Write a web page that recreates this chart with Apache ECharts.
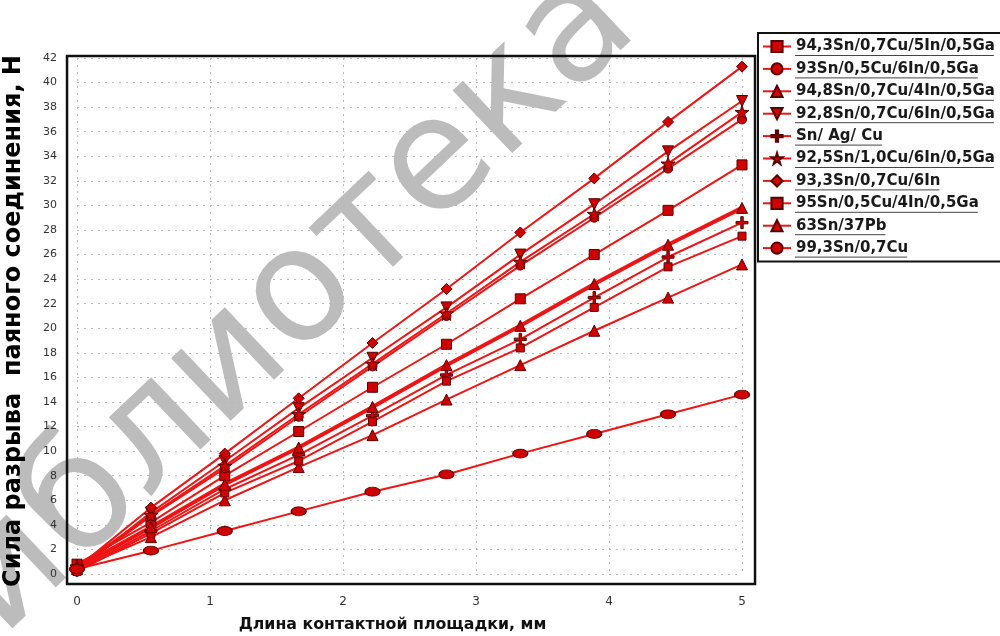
<!DOCTYPE html>
<html><head><meta charset="utf-8">
<script src="https://cdn.jsdelivr.net/npm/echarts@6/dist/echarts.min.js"></script>
<style>html,body{margin:0;padding:0;background:#fff}#c{width:1000px;height:636px}</style>
</head><body><div id="c"></div>
<script>
// ---- data ----
const xValues = [0, 0.556, 1.111, 1.667, 2.222, 2.778, 3.333, 3.889, 4.444, 5];
const yTickMax = 42;
const seriesNames = [
  '94,3Sn/0,7Cu/5In/0,5Ga',
  '93Sn/0,5Cu/6In/0,5Ga',
  '94,8Sn/0,7Cu/4In/0,5Ga',
  '92,8Sn/0,7Cu/6In/0,5Ga',
  'Sn/ Ag/ Cu',
  '92,5Sn/1,0Cu/6In/0,5Ga',
  '93,3Sn/0,7Cu/6In',
  '95Sn/0,5Cu/4In/0,5Ga',
  '63Sn/37Pb',
  '99,3Sn/0,7Cu'
];
const s943 = [0.8, 4.2, 8.0, 11.6, 15.2, 18.7, 22.4, 26.0, 29.6, 33.3];
const s93  = [0.4, 4.7, 8.6, 12.8, 16.9, 21.0, 25.1, 29.0, 33.0, 37.0];
const s948 = [0.4, 3.0, 6.0, 8.7, 11.3, 14.2, 17.0, 19.8, 22.5, 25.2];
const s928 = [0.3, 5.0, 9.2, 13.5, 17.6, 21.7, 26.0, 30.1, 34.4, 38.5];
const sSAC = [0.3, 3.5, 6.9, 9.7, 12.9, 16.2, 19.1, 22.5, 25.8, 28.6];
const s925 = [0.6, 4.8, 8.8, 13.0, 17.1, 21.2, 25.4, 29.3, 33.4, 37.6];
const s933 = [0.5, 5.4, 9.8, 14.3, 18.8, 23.2, 27.8, 32.2, 36.8, 41.3];
const s95  = [0.2, 3.3, 6.6, 9.2, 12.4, 15.7, 18.4, 21.7, 25.0, 27.5];
const s63  = [0.5, 3.8, 7.3, 10.3, 13.6, 17.0, 20.2, 23.6, 26.8, 29.8];
const s993 = [0.4, 1.9, 3.5, 5.1, 6.7, 8.1, 9.8, 11.4, 13.0, 14.6];
const seriesValues = [s943, s93, s948, s928, sSAC, s925, s933, s95, s63, s993];
const xTitle = 'Длина контактной площадки, мм';
const yTitle = 'Сила разрыва  паяного соединения, Н';
const watermark = 'Библиотека';

// ---- styles ----
const PLUS = 'path://M4,0H6V4H10V6H6V10H4V6H0V4H4Z';
const STAR = 'path://M50,0L61,35H98L68,57L79,91L50,70L21,91L32,57L2,35H39Z';
const symbols = [
  {symbol:'rect', size:10},
  {symbol:'circle', size:9},
  {symbol:'triangle', size:11},
  {symbol:'triangle', size:11, rotate:180},
  {symbol:PLUS, size:12},
  {symbol:STAR, size:14},
  {symbol:'diamond', size:11},
  {symbol:'rect', size:8},
  {symbol:'triangle', size:11},
  {symbol:'circle', size:[15,9]}
];
const lineW = [2,2,2,2,2,2,2,2,4,2];
const LEG_FONT = 'bold 15px "DejaVu Sans"';

const chart = echarts.init(document.getElementById('c'), null, {renderer:'canvas'});
const series = seriesNames.map((name, i) => ({
  name, type:'line',
  data: xValues.map((x, j) => [x, seriesValues[i][j]]),
  symbol: symbols[i].symbol,
  symbolSize: symbols[i].size,
  symbolRotate: symbols[i].rotate || 0,
  showAllSymbol: true,
  lineStyle: {color:'#ee1414', width: lineW[i]},
  itemStyle: {color:'#d00000', borderColor:'#5a0000', borderWidth:1},
  emphasis: {disabled:true},
  z: 3
}));

const LEG_TOP = 33, LEG_PAD_T = 6, ITEM_H = 15, ITEM_GAP = 7.4;
chart.setOption({
  animation:false,
  backgroundColor:'#fff',
  grid:{left:77, right:258, top:58, bottom:62, containLabel:false, outerBoundsMode:'none'},
  xAxis:{type:'value', min:0, max:5, interval:1,
    axisLine:{show:false}, axisTick:{show:false},
    axisLabel:{color:'#333', fontSize:12, fontFamily:'DejaVu Sans', margin:22},
    splitLine:{show:true, lineStyle:{color:'#b8b8b8', type:[2,5], width:1}},
    name:xTitle, nameLocation:'middle', nameGap:43,
    nameTextStyle:{color:'#111', fontSize:15.8, fontWeight:'bold', fontFamily:'DejaVu Sans', padding:[0,34,0,0]}
  },
  yAxis:{type:'value', min:0, max:yTickMax, interval:2,
    axisLine:{show:false}, axisTick:{show:false},
    axisLabel:{color:'#333', fontSize:11, fontFamily:'DejaVu Sans', margin:20},
    splitLine:{show:true, lineStyle:{color:'#b8b8b8', type:[2,5], width:1}},
    name:yTitle, nameLocation:'middle', nameGap:51, nameRotate:90,
    nameTextStyle:{color:'#000', fontSize:24, fontWeight:'bold', fontFamily:'DejaVu Sans', padding:[0,10,0,0]}
  },
  legend:{
    orient:'vertical', left:758, top:LEG_TOP,
    padding:[LEG_PAD_T,8,6,4],
    backgroundColor:'#fff', borderColor:'#111', borderWidth:2,
    itemWidth:28, itemHeight:14, itemGap:ITEM_GAP,
    textStyle:{color:'#1a1a1a', fontSize:15, fontWeight:'bold', fontFamily:'DejaVu Sans', lineHeight:ITEM_H},
    data: seriesNames
  },
  series
});

const p1 = chart.convertToPixel({gridIndex:0}, [-0.075, 42.16]);
const p2 = chart.convertToPixel({gridIndex:0}, [5.098, -0.81]);
const ctx = document.createElement('canvas').getContext('2d');
ctx.font = LEG_FONT;
const underlines = seriesNames.map((name, i) => {
  const w = ctx.measureText(name).width;
  const x0 = 758 + 4 + 28 + 5;
  const y = LEG_TOP + LEG_PAD_T + i * (ITEM_H + ITEM_GAP) + ITEM_H + 1.5;
  return {type:'line', z:20, silent:true,
    shape:{x1:x0, y1:y, x2:x0 + w, y2:y},
    style:{stroke:'#444', lineWidth:1}};
});
chart.setOption({
  graphic:[
    {type:'text', z:-10, silent:true, x:254, y:342, rotation:0.76,
      style:{text:watermark, font:'158px "DejaVu Sans"', fill:'rgba(165,165,165,0.75)', align:'center', verticalAlign:'middle'}},
    {type:'rect', z:10, silent:true,
      shape:{x:p1[0], y:p1[1], width:p2[0]-p1[0], height:p2[1]-p1[1]},
      style:{fill:'none', stroke:'#111', lineWidth:2.5}},
    ...underlines
  ]
});
</script></body></html>
